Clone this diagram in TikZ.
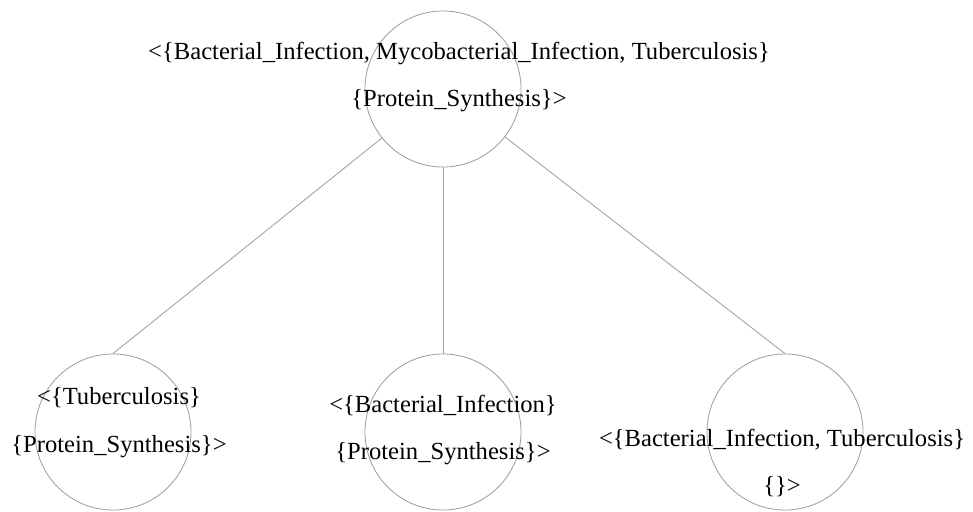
\documentclass[tikz,border=0pt]{standalone}
\usepackage{fontspec}
\setmainfont{Liberation Serif}
\usepackage{tikz}
\usetikzlibrary{positioning}
\usepackage{xcolor}

\begin{document}
\begin{tikzpicture}[x=0.025cm,y=-0.025cm,
  setnode/.style={draw=gray!75,line width=0.6pt,circle,minimum size=3.9cm,inner sep=0pt},
  setlabel/.style={align=center,inner sep=0pt,font=\fontsize{17.5}{34}\selectfont},
  edge/.style={draw=gray!75,line width=0.6pt}]
\useasboundingbox (0,0) rectangle (973,512);
\node[setnode] (root) at (443,89) {};
\node[setnode] (tb) at (113,432) {};
\node[setnode] (bi) at (443,432) {};
\node[setnode] (bitb) at (785,432) {};
\node[setlabel] (rootText) at (459,77) {<\{Bacterial\_Infection, Mycobacterial\_Infection, Tuberculosis\}\\\{Protein\_Synthesis\}>};
\node[setlabel] (tbText) at (119,423) {<\{Tuberculosis\}\\\{Protein\_Synthesis\}>};
\node[setlabel] (biText) at (443,430) {<\{Bacterial\_Infection\}\\\{Protein\_Synthesis\}>};
\node[setlabel] (bitbText) at (782,463) {<\{Bacterial\_Infection, Tuberculosis\}\\\{\}>};
\draw[edge] (root) -- (tb.north);
\draw[edge] (root) -- (bi.north);
\draw[edge] (root) -- (bitb.north);
\end{tikzpicture}
\end{document}
